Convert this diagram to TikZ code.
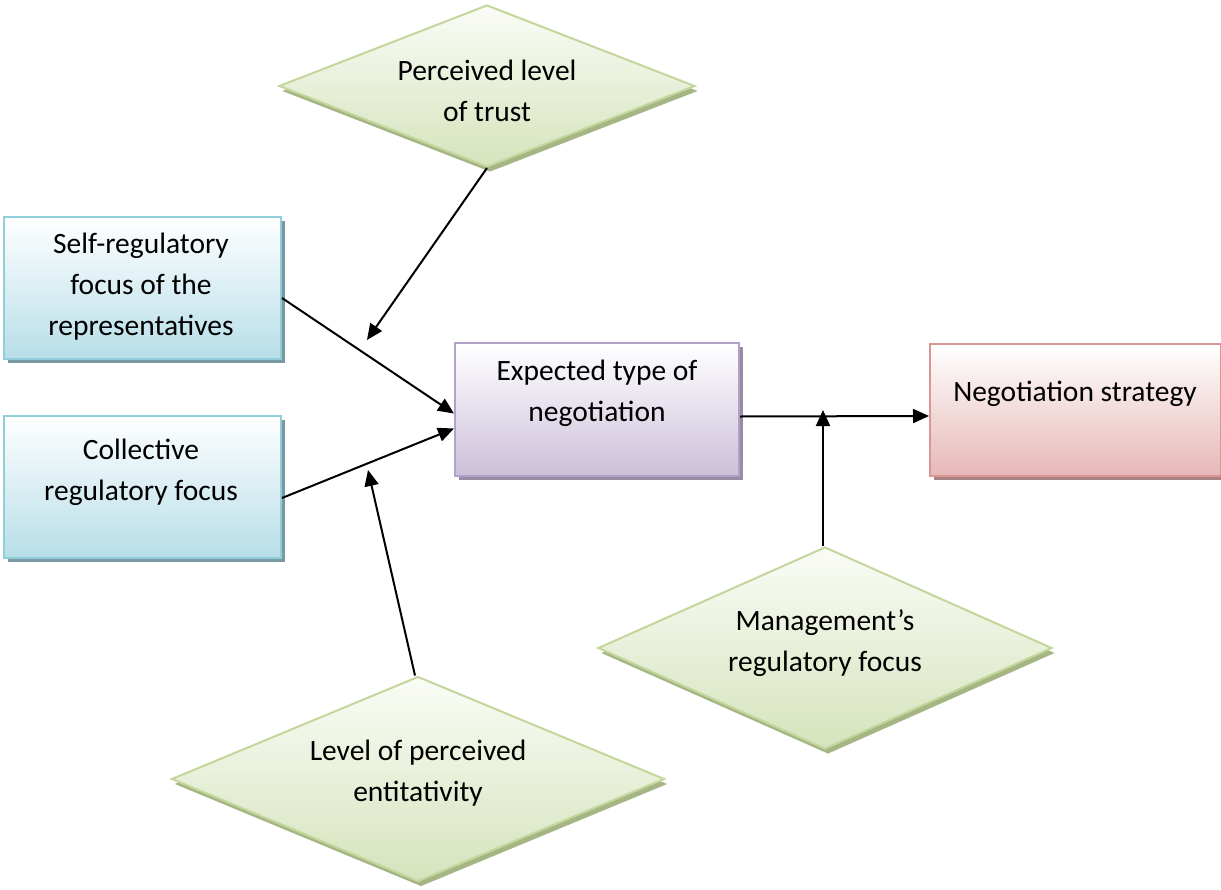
\documentclass[tikz,border=0pt]{standalone}
\usepackage{fontspec}
\setmainfont{Carlito}
\usetikzlibrary{shapes.geometric,shadows,arrows.meta}
\definecolor{blueLine}{RGB}{146,205,220}
\definecolor{blueBot}{RGB}{183,222,232}
\definecolor{blueShade}{RGB}{120,152,162}
\definecolor{purpLine}{RGB}{178,161,199}
\definecolor{purpBot}{RGB}{204,192,218}
\definecolor{purpShade}{RGB}{150,140,165}
\definecolor{pinkLine}{RGB}{217,150,148}
\definecolor{pinkBot}{RGB}{230,184,183}
\definecolor{pinkShade}{RGB}{168,130,130}
\definecolor{grnLine}{RGB}{195,214,155}
\definecolor{grnTop}{RGB}{250,252,246}
\definecolor{grnBot}{RGB}{214,227,188}
\definecolor{grnShade}{RGB}{165,182,132}
\tikzset{
  box/.style={rectangle, line width=2pt, inner sep=0pt, anchor=north west},
  bluebox/.style={box, draw=blueLine, top color=white, bottom color=blueBot,
    drop shadow={shadow xshift=3.5pt, shadow yshift=-4pt, fill=blueShade, opacity=1}},
  purpbox/.style={box, draw=purpLine, top color=white, bottom color=purpBot,
    drop shadow={shadow xshift=3.5pt, shadow yshift=-4pt, fill=purpShade, opacity=1}},
  pinkbox/.style={box, draw=pinkLine, top color=white, bottom color=pinkBot,
    drop shadow={shadow xshift=3.5pt, shadow yshift=-4pt, fill=pinkShade, opacity=1}},
  decision/.style={diamond, line width=2pt, inner sep=0pt, draw=grnLine,
    top color=grnTop, bottom color=grnBot,
    drop shadow={shadow xshift=3pt, shadow yshift=-5pt, fill=grnShade, opacity=1}},
  txt/.style={font=\fontsize{29.5}{41}\selectfont, align=center, inner sep=0pt},
  link/.style={line width=2pt, -{Triangle[length=16pt,width=14pt]}},
}
\begin{document}
\begin{tikzpicture}[x=1pt,y=-1pt]
\useasboundingbox[fill=white] (0,0) rectangle (1221,889);

% boxes
\node[bluebox, minimum width=277pt, minimum height=142pt] (self) at (3,216) {};
\node[bluebox, minimum width=277pt, minimum height=142pt] (coll) at (3,415) {};
\node[purpbox, minimum width=284pt, minimum height=133pt] (exp) at (454,342) {};
\node[pinkbox, minimum width=291pt, minimum height=132pt] (strat) at (929,343) {};

% diamonds
\node[decision, minimum width=416pt, minimum height=162pt] (trust) at (487,86) {};
\node[decision, minimum width=493pt, minimum height=205pt] (ent) at (418,779) {};
\node[decision, minimum width=454pt, minimum height=202pt] (mgmt) at (825,648) {};

% labels
\node[txt] (selft) at (141,287) {Self-regulatory\\focus of the\\representatives};
\node[txt] (collt) at (141,472) {Collective\\regulatory focus};
\node[txt] (expt) at (597,393) {Expected type of\\negotiation};
\node[txt] (stratt) at (1075,394) {Negotiation strategy};
\node[txt] (trustt) at (487,91) {Perceived level\\of trust};
\node[txt] (entt) at (418,773) {Level of perceived\\entitativity};
\node[txt] (mgmtt) at (825,643) {Management’s\\regulatory focus};

% connectors
\coordinate (trustEnd) at (367,340);
\coordinate (entEnd) at (368,470);
\coordinate (mgmtEnd) at (823,410);
\draw[link] (trust.south) -- (trustEnd);
\draw[link] ([yshift=-10pt]self.east) -- ([yshift=-4pt]exp.west);
\draw[link] ([yshift=-11pt]coll.east) -- ([yshift=-19pt]exp.west);
\draw[link] ([xshift=-3pt]ent.north) -- (entEnd);
\draw[link] ([yshift=-7pt]exp.east) -- ([yshift=-6pt]strat.west);
\draw[link] ([xshift=-2pt]mgmt.north) -- (mgmtEnd);
\end{tikzpicture}
\end{document}
